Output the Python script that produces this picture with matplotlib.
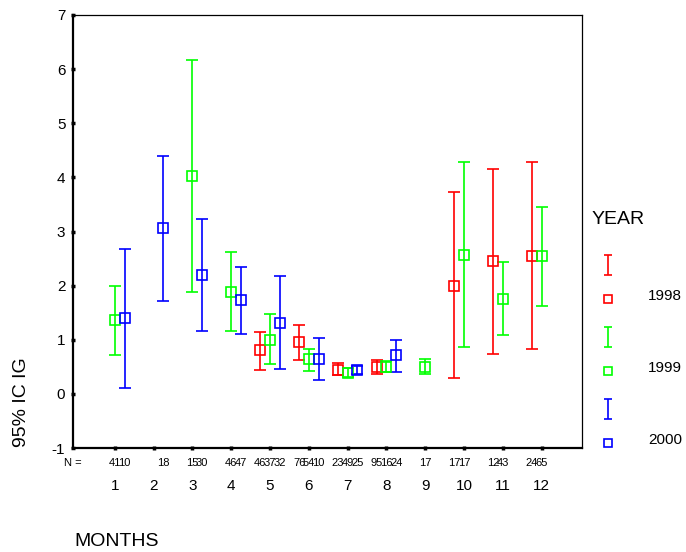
import matplotlib
matplotlib.use("Agg")
import matplotlib.pyplot as plt
import numpy as np

plt.rcParams['font.family'] = ['Liberation Sans', 'DejaVu Sans']
plt.rcParams['axes.unicode_minus'] = False

months = list(range(1, 13))
years = ['1998', '1999', '2000']
colors = ['#ff0000', '#00ff00', '#0000ff']
offsets = [-0.25, 0.0, 0.25]

# mean and 95% CI bounds per month, None where the year has no samples
mean_1998 = [None, None, None, None, 0.81, 0.95, 0.44, 0.50, None, 2.00, 2.46, 2.54]
low_1998 = [None, None, None, None, 0.44, 0.62, 0.34, 0.37, None, 0.30, 0.73, 0.83]
up_1998 = [None, None, None, None, 1.14, 1.28, 0.57, 0.62, None, 3.73, 4.16, 4.28]
n_1998 = [None, None, None, None, 46, 76, 23, 95, None, 17, 12, 24]

mean_1999 = [1.37, None, 4.02, 1.89, 1.00, 0.64, 0.38, 0.50, 0.50, 2.57, 1.76, 2.54]
low_1999 = [0.72, None, 1.89, 1.17, 0.56, 0.43, 0.31, 0.40, 0.36, 0.86, 1.09, 1.62]
up_1999 = [2.00, None, 6.16, 2.62, 1.48, 0.83, 0.48, 0.60, 0.64, 4.29, 2.43, 3.46]
n_1999 = [41, None, 15, 46, 37, 54, 49, 16, 17, 17, 43, 65]

mean_2000 = [1.40, 3.07, 2.20, 1.73, 1.31, 0.64, 0.44, 0.72, None, None, None, None]
low_2000 = [0.11, 1.72, 1.17, 1.11, 0.46, 0.25, 0.36, 0.41, None, None, None, None]
up_2000 = [2.68, 4.40, 3.23, 2.34, 2.17, 1.03, 0.52, 1.00, None, None, None, None]
n_2000 = [10, 18, 30, 47, 32, 10, 25, 24, None, None, None, None]

means = [mean_1998, mean_1999, mean_2000]
lows = [low_1998, low_1999, low_2000]
ups = [up_1998, up_1999, up_2000]
counts = [n_1998, n_1999, n_2000]

fig = plt.figure(figsize=(6.86, 5.52), dpi=100)
ax = fig.add_axes([73/686, 1 - 448/552, (582-73)/686, (448-15)/552])

for k in range(3):
    x, y, lo, hi = [], [], [], []
    for i, m in enumerate(months):
        if means[k][i] is None:
            continue
        x.append(m + offsets[k])
        y.append(means[k][i])
        lo.append(means[k][i] - lows[k][i])
        hi.append(ups[k][i] - means[k][i])
        ax.annotate(str(counts[k][i]), xy=(m + offsets[k], 0),
                    xycoords=('data', 'axes fraction'), xytext=(0, -11),
                    textcoords='offset points', ha='center', va='center',
                    fontsize=8)
    ax.errorbar(x, y, yerr=[lo, hi], fmt='s', color=colors[k], mfc='none',
                mec=colors[k], ms=7.5, mew=1.2, elinewidth=1.2, capsize=4,
                capthick=1.2)

ax.annotate('N =', xy=(0, 0), xycoords='axes fraction', xytext=(0, -11),
            textcoords='offset points', ha='center', va='center', fontsize=8)

ax.set_xlim(-0.08, 13.04)
ax.set_ylim(-1, 7)
ax.set_xticks(months)
ax.set_yticks(range(-1, 8))
ax.tick_params(axis='both', direction='inout', length=3, width=2.5, labelsize=11)
ax.tick_params(axis='x', pad=21)
ax.tick_params(axis='y', pad=4)
for s in ['left', 'bottom']:
    ax.spines[s].set_linewidth(1.6)
for s in ['top', 'right']:
    ax.spines[s].set_linewidth(0.9)

fig.text(21.7/686, 1 - 402/552, '95% IC IG', rotation=90, ha='center',
         va='center', fontsize=14)
fig.text(117/686, 1 - 541/552, 'MONTHS', ha='center', va='center', fontsize=14)

# year legend drawn to the right of the plot
leg = fig.add_axes([0, 0, 1, 1])
leg.set_xlim(0, 686)
leg.set_ylim(552, 0)
leg.axis('off')
leg.text(592, 220, 'YEAR', ha='left', va='center', fontsize=14)
for k in range(3):
    yc = 265 + 72 * k
    leg.errorbar([608], [yc], yerr=[[10], [10]], fmt='none', color=colors[k],
                 elinewidth=1.2, capsize=3, capthick=1.2)
    leg.plot([608], [yc + 34], 's', mfc='none', mec=colors[k], ms=6, mew=1.2)
    leg.text(648, yc + 31, years[k], ha='left', va='center', fontsize=11)

fig.savefig('out.png', dpi=100)
